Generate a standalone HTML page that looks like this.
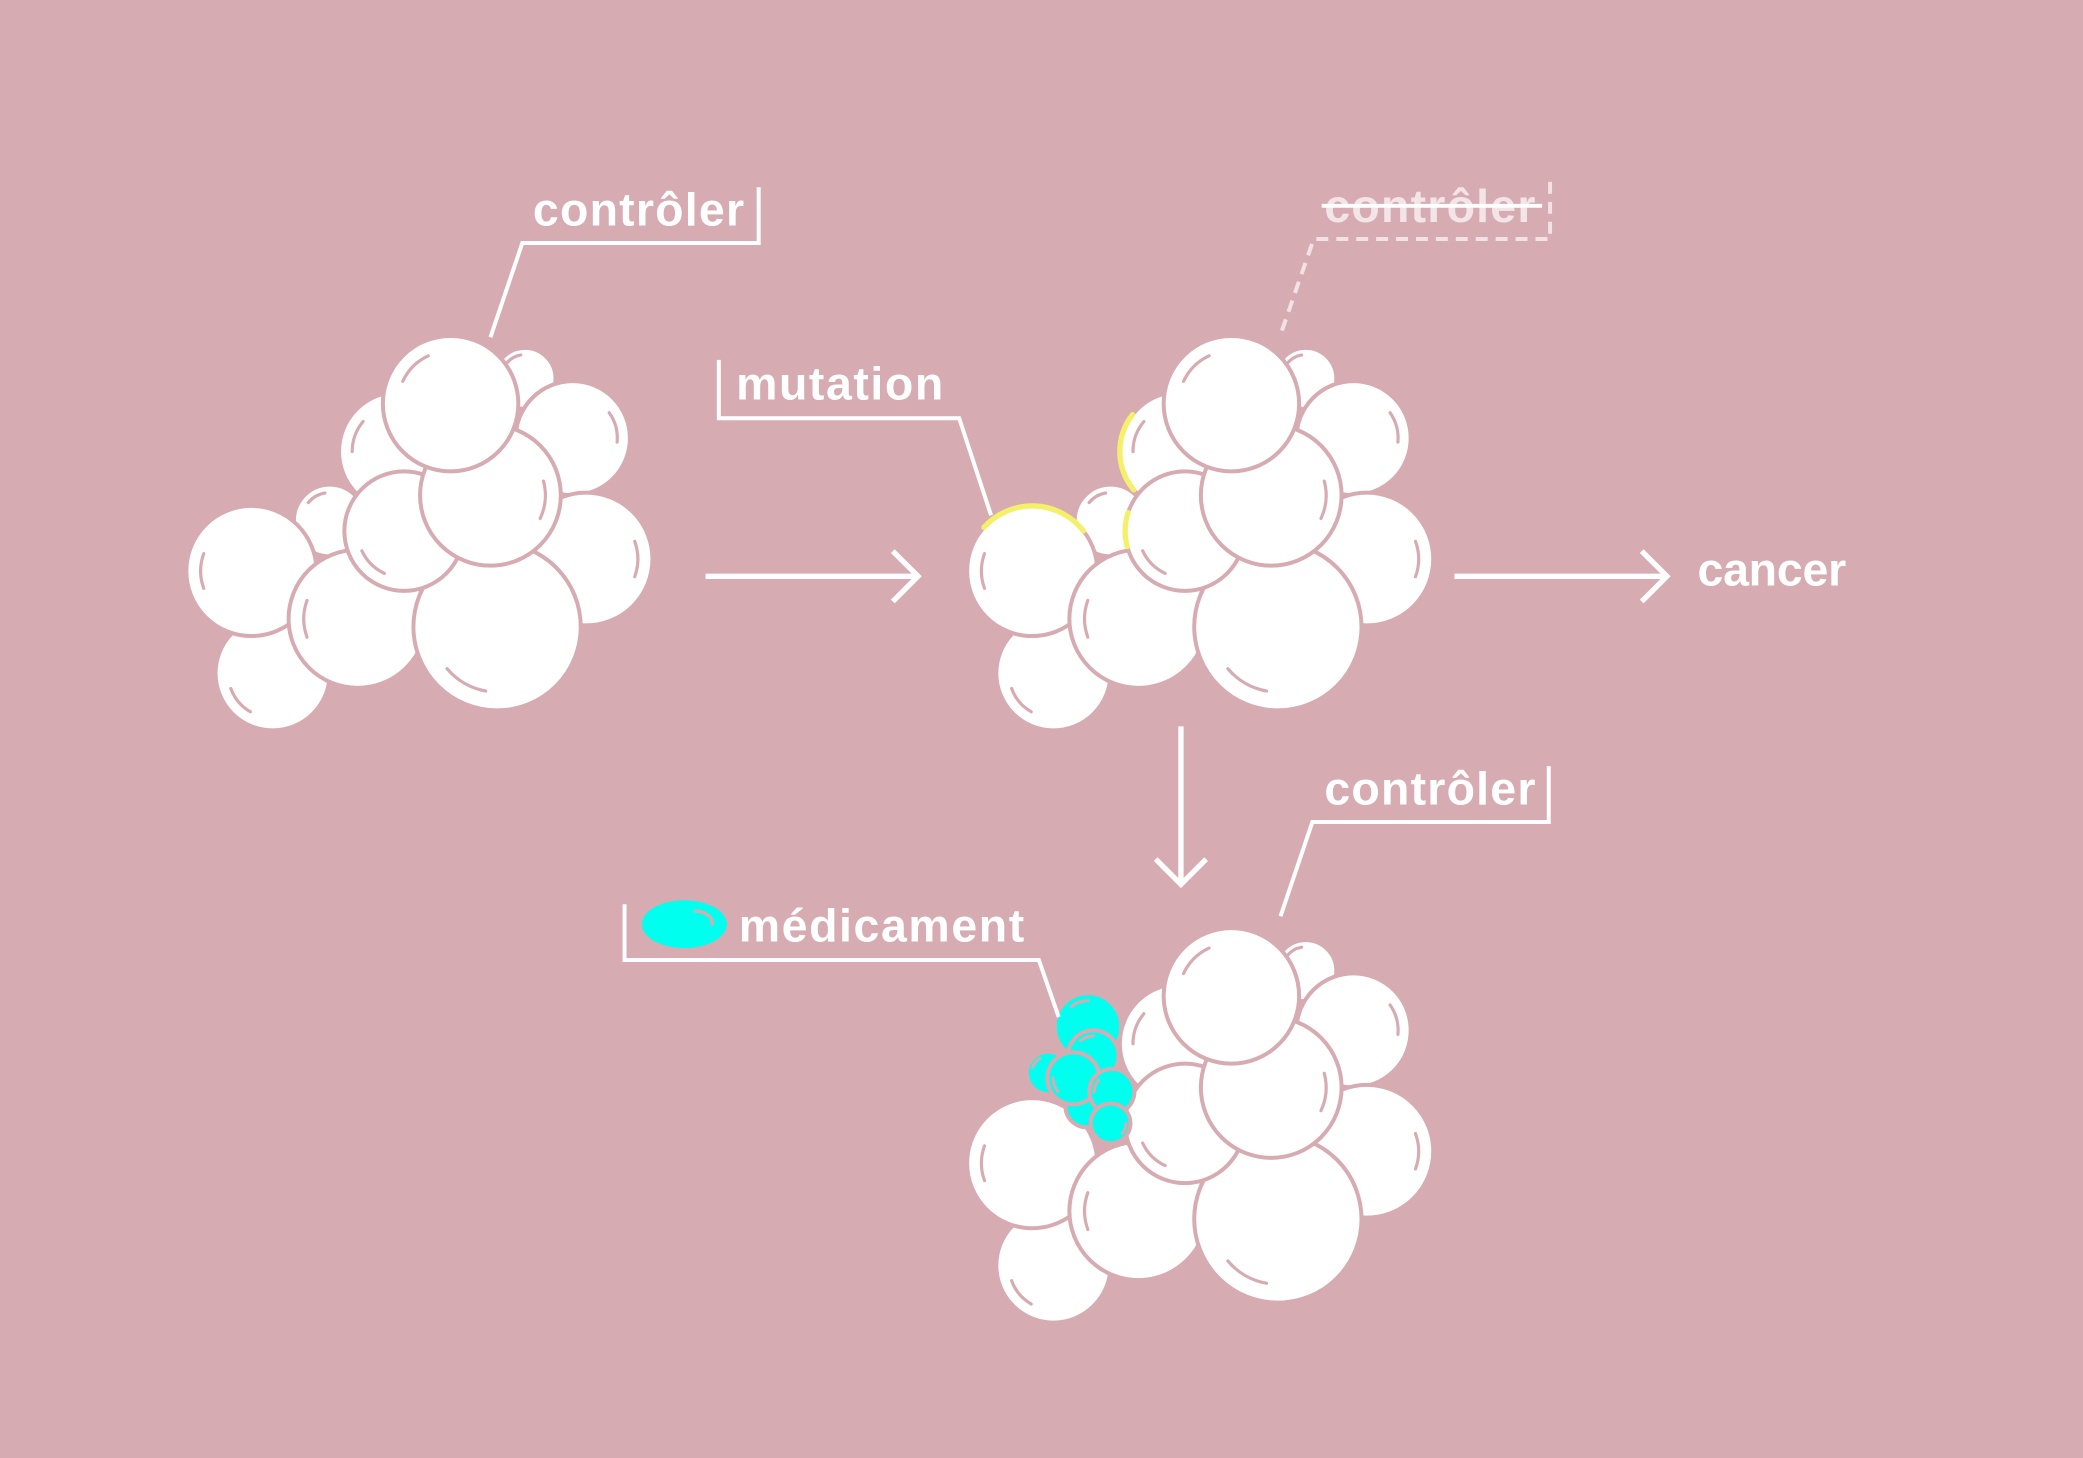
<!DOCTYPE html>
<html><head><meta charset="utf-8"><style>
html,body{margin:0;padding:0;background:#d7abb2;}
svg{display:block}
text{font-family:"Liberation Sans",sans-serif;font-weight:bold;font-size:35px;fill:#fff;}
</style></head><body>
<svg id="s" width="2083" height="1458" viewBox="0 0 1568 1098" xmlns="http://www.w3.org/2000/svg">
<rect width="1568" height="1098" fill="#d7abb2"/>
<g id="clusters"></g>
<g stroke="#fff" stroke-width="4" fill="none">
<line x1="531" y1="434" x2="690" y2="434"/><polyline points="672,415 691,434 672,453"/>
<line x1="1095" y1="434" x2="1254" y2="434"/><polyline points="1236,415 1255,434 1236,453"/>
<line x1="889" y1="547" x2="889" y2="664"/><polyline points="870,647 889,666 908,647"/>
</g>
<g stroke="#fff" stroke-width="3" fill="none">
<polyline points="571,141 571,183 393,183 369,254"/>
<polyline points="541,271 541,315 722,315 746,388"/>
<polyline points="1166,577 1166,619 988,619 964,690"/>
<polyline points="470,681 470,723 782,723 797,766"/>
</g>
<polyline points="1167,137 1167,180 989,180 964,252" stroke="#f0e2e5" stroke-width="3" fill="none" stroke-dasharray="9,6"/>
<text x="401" y="170" textLength="159">contrôler</text>
<text x="554" y="301" textLength="156">mutation</text>
<text x="1278" y="441" textLength="112">cancer</text>
<text x="997" y="606" textLength="159">contrôler</text>
<text x="556" y="709" textLength="215">médicament</text>
<text x="997" y="167" textLength="159" style="fill:#f2e4e7">contrôler</text>
<line x1="995" y1="155" x2="1161" y2="155" stroke="#fff" stroke-width="3"/>
<ellipse cx="515" cy="696" rx="32" ry="18" fill="#00ffee"/>
<path d="M523,686 A14,9 0 0 1 536,696" stroke="#d7abb2" stroke-width="2.5" fill="none" stroke-linecap="round"/>
</svg>
<script>
var NS="http://www.w3.org/2000/svg";
var g=document.getElementById("clusters");
var P="#d7abb2";
var C={
 str:[395,285,23,240], rt:[431,330,43,-15], lm:[300,340,45,200], sl:[248,392,27,240],
 fr:[441,421,50,0], bl:[205,507,43,140], lb:[189,430,49,180], bm:[269,466,52,180],
 bb:[374,472,63,120], ml:[304,400,45,135], ct:[369,373,53,5], tp:[339,304,51,225]
};
function el(n,a){var e=document.createElementNS(NS,n);for(var k in a)e.setAttribute(k,a[k]);g.appendChild(e);return e;}
function arc(x,y,r,a1,a2,col,w){
 var t1=a1*Math.PI/180,t2=a2*Math.PI/180;
 var d="M"+(x+r*Math.cos(t1))+","+(y+r*Math.sin(t1))+" A"+r+","+r+" 0 0 1 "+(x+r*Math.cos(t2))+","+(y+r*Math.sin(t2));
 el("path",{d:d,stroke:col,"stroke-width":w,fill:"none","stroke-linecap":"round"});
}
function circ(x,y,r,ha,fill){
 el("circle",{cx:x,cy:y,r:r,fill:fill||"#fff",stroke:P,"stroke-width":3});
 arc(x,y,r*0.78,ha-20,ha+20,P,2.4);
}
function cluster(dx,dy,order){
 order.forEach(function(k){
  if(typeof k==="function"){k();return;}
  var c=C[k];circ(c[0]+dx,c[1]+dy,c[2],c[3]);
 });
}
var base=["str","rt","lm","sl","fr","bl","lb","bm","bb","ml","ct","tp"];
cluster(0,0,base);
cluster(588,0,base);
var Y="#f5f06a";
arc(777,430,49,222,322,Y,4);
arc(888,340,45,140,218,Y,4);
arc(892,400,45,165,198,Y,4);
var cy=[[819,773,25,250],[823,795,19,250],[818,833,16,250],[789,808,16,220],[808,812,19.6,160],[837,822,17,200],[836,846,15,20]];
cluster(588,446,["str","rt","lm","fr","bl","lb","bm","bb","ml","ct",function(){
 cy.forEach(function(c){circ(c[0],c[1],c[2],c[3],"#00ffee");});
},"tp"]);
</script>
</body></html>
